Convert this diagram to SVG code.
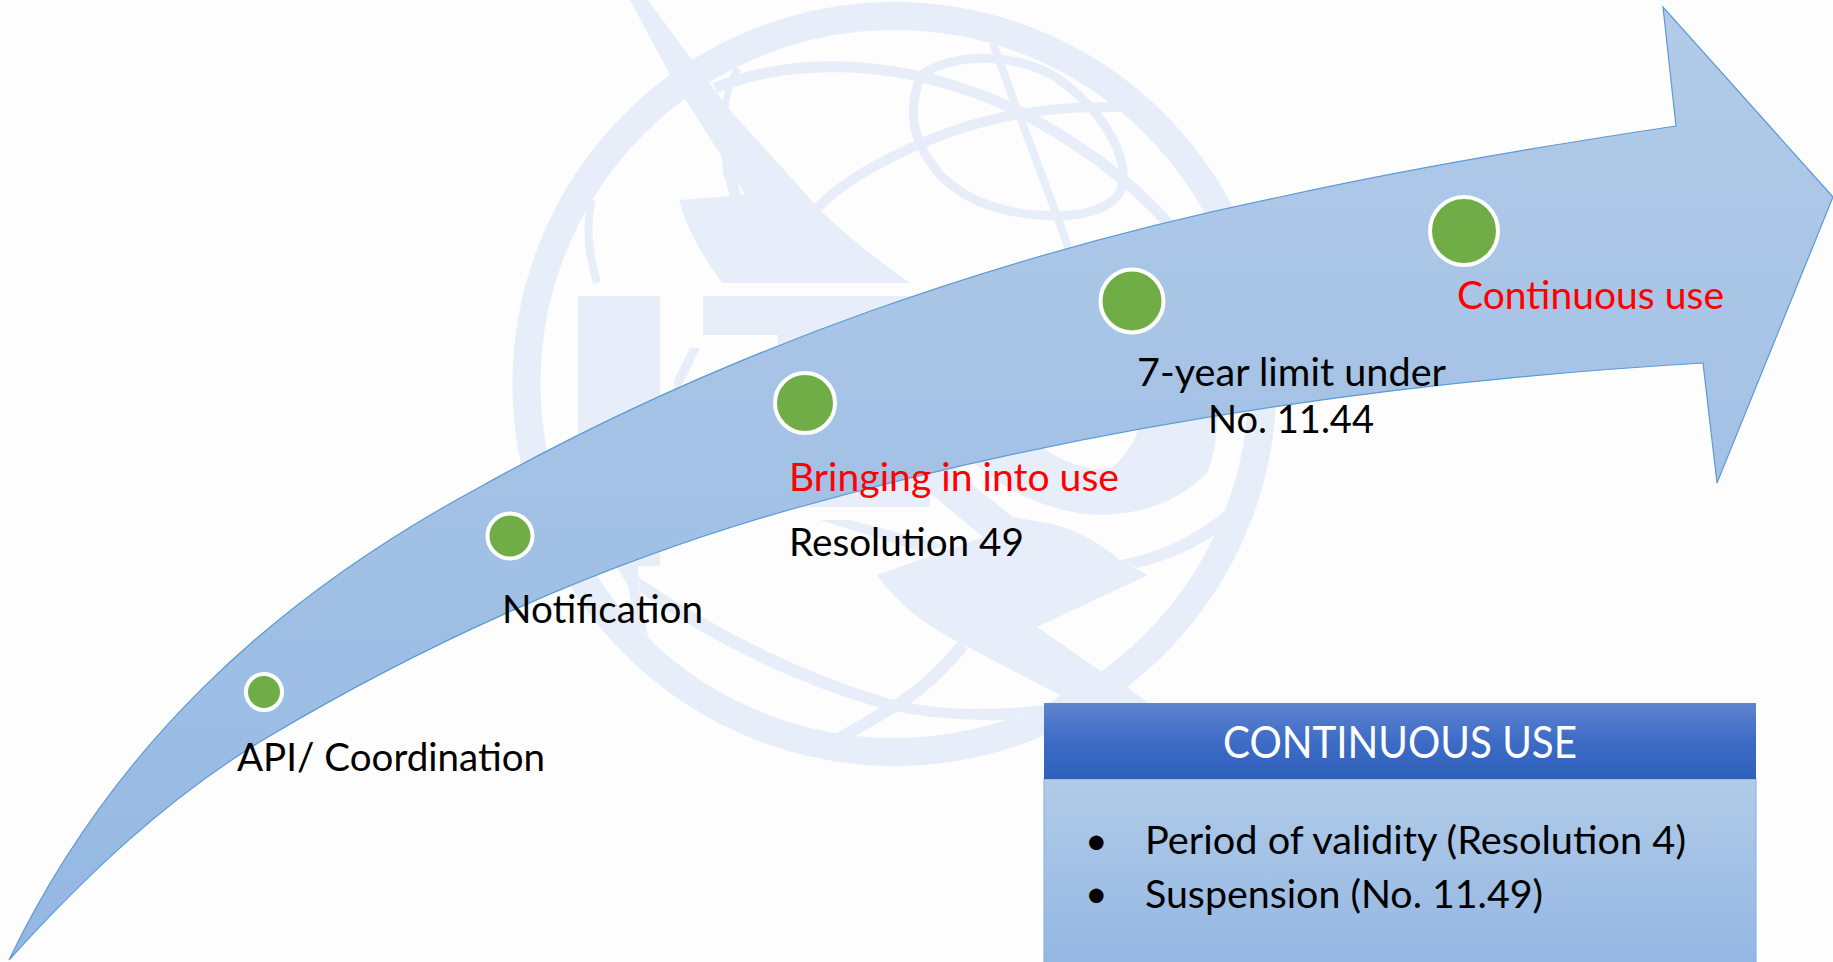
<svg xmlns="http://www.w3.org/2000/svg" width="1833" height="962" viewBox="0 0 1833 962">
<style>
.wm{fill:#e7eef9}
.wl{fill:none;stroke:#e7eef9}
.dot{fill:#70ad47;stroke:#fff;stroke-width:4}
.t{font-family:Lato,"Open Sans","Liberation Sans",sans-serif;font-size:39px;fill:#000}
.r{fill:#f00}
.h{font-size:44px;fill:#fff}
</style>
<defs>
<linearGradient id="ga" gradientUnits="userSpaceOnUse" x1="0" y1="7" x2="0" y2="960"><stop offset="0" stop-color="#b2cbe8"/><stop offset="1" stop-color="#94b8e3"/></linearGradient>
<linearGradient id="gh" x1="0" y1="0" x2="0" y2="1"><stop offset="0" stop-color="#6083cf"/><stop offset=".5" stop-color="#3d6cc6"/><stop offset="1" stop-color="#2e60bb"/></linearGradient>
<linearGradient id="gb" gradientUnits="userSpaceOnUse" x1="0" y1="779" x2="0" y2="962"><stop offset="0" stop-color="#b1cbe8"/><stop offset="1" stop-color="#94b7e3"/></linearGradient>
</defs>
<rect width="1833" height="962" fill="#fdfdfd"/>
<g id="watermark">
<circle class="wl" cx="894.5" cy="384" r="368" stroke-width="28"/>
<path class="wm" d="M630 0L670 75L687 102L722 157L723 173L730 196L679 200Q690 240 722 283H910Q860 248 822 212L728 108L692 60L648 0Z"/>
<path d="M737 180L745 195H741Z" fill="#fdfdfd"/>
<path class="wl" stroke-width="8" d="M597 283Q583 235 592 200"/>
<path class="wl" stroke-width="7" d="M738 68Q727 85 725 110"/>
<path class="wl" stroke-width="11" d="M715 88C790 58 900 55 1016 110C1080 143 1130 180 1170 225"/>
<path class="wl" stroke-width="10" d="M817 208C860 165 950 125 1020 114C1060 107 1090 107 1120 107"/>
<path class="wl" stroke-width="9" d="M921 75C960 50 1020 55 1057 78C1100 108 1125 150 1123 180C1122 205 1090 216 1056 216C1010 215 970 205 940 175C915 145 905 115 921 75Z"/>
<path class="wl" stroke-width="8" d="M993 43C1020 120 1045 180 1069 250"/>
<rect class="wm" x="578" y="296" width="82" height="270"/>
<path class="wm" d="M703 296H930V507H778V335H703Z"/>
<path class="wm" d="M690 348H700L688 373L674 400V380Z"/>
<path class="wm" d="M612 560L638 555V585L648 637L635 625L628 585Z"/>
<path class="wm" d="M638 577Q760 660 893 700Q960 715 1044 705L1007 720Q940 722 880 708Q750 670 640 592Z"/>
<path class="wl" stroke-width="12" d="M963 645Q935 680 900 703L832 743"/>
<path class="wm" d="M930 493L983 537L877 575Q905 615 958 642L1060 695L1050 703H1148L1127 687L1102 672L1037 627L1148 575L1120 560Q1090 535 1057 525L1013 517L963 477L945 440L905 470Z"/>
<path class="wm" d="M820 520H850L945 545L925 553Z"/>
<path class="wm" d="M960 450Q1020 510 1097 515Q1165 515 1207 473Q1218 450 1218 400H1143Q1143 440 1113 467Q1090 475 1050 453L1020 430Z"/>
<path class="wm" d="M1120 560Q1180 550 1232 505L1218 533Q1180 558 1137 568Z"/>
</g>
<g id="arrow">
<path fill="url(#ga)" stroke="#5b9bd5" stroke-width="1.2" stroke-linejoin="miter" d="M9 960C110 750 270 600 480 487C729 348 1004 254 1280 197C1411 168 1543 146 1676 126L1663 7L1833 197L1717 483L1703 363C1398 381 1091 425 796 508C610 560 428 641 263 740C167 798 84 877 9 960Z"/>
</g>
<g id="node-api"><circle class="dot" cx="264" cy="692" r="18"/><text class="t" x="237" y="771" textLength="308" lengthAdjust="spacingAndGlyphs">API/ Coordination</text></g>
<g id="node-notification"><circle class="dot" cx="510" cy="536" r="22.5"/><text class="t" x="502" y="623" textLength="201" lengthAdjust="spacingAndGlyphs">Notification</text></g>
<g id="node-biu"><circle class="dot" cx="805" cy="403" r="30"/><text class="t r" x="789" y="491" textLength="330" lengthAdjust="spacingAndGlyphs">Bringing in into use</text><text class="t" x="789" y="556" textLength="235" lengthAdjust="spacingAndGlyphs">Resolution 49</text></g>
<g id="node-7year"><circle class="dot" cx="1132" cy="301" r="31.5"/><text class="t" x="1137" y="386" textLength="309" lengthAdjust="spacingAndGlyphs">7-year limit under</text><text class="t" x="1208" y="433" textLength="166" lengthAdjust="spacingAndGlyphs">No. 11.44</text></g>
<g id="node-continuous"><circle class="dot" cx="1464" cy="231" r="34"/><text class="t r" x="1457" y="309" textLength="267" lengthAdjust="spacingAndGlyphs">Continuous use</text></g>
<g id="box">
<rect x="1044" y="779" width="712" height="190" fill="url(#gb)" stroke="#7fb0e0" stroke-width="1"/>
<rect x="1044" y="703" width="712" height="76" fill="url(#gh)"/>
<text class="t h" x="1223" y="758" textLength="354" lengthAdjust="spacingAndGlyphs">CONTINUOUS USE</text>
<text class="t" x="1085" y="854">•</text>
<text class="t" x="1145" y="854" textLength="541" lengthAdjust="spacingAndGlyphs">Period of validity (Resolution 4)</text>
<text class="t" x="1085" y="907">•</text>
<text class="t" x="1145" y="908" textLength="398" lengthAdjust="spacingAndGlyphs">Suspension (No. 11.49)</text>
</g>
</svg>
